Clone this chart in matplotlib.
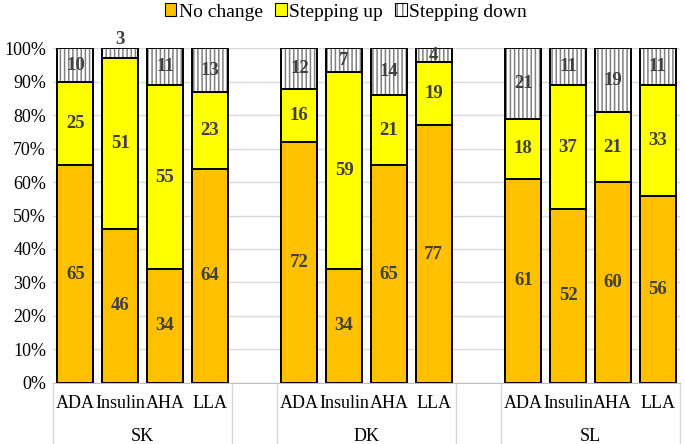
import numpy as np
import matplotlib
matplotlib.use("Agg")
import matplotlib.pyplot as plt
from matplotlib.patches import Patch
from matplotlib.legend_handler import HandlerTuple

plt.rcParams['font.family'] = ['Liberation Serif', 'DejaVu Serif']
plt.rcParams['hatch.linewidth'] = 1.1

groups = ['SK', 'DK', 'SL']
drugs = ['ADA', 'Insulin', 'AHA', 'LLA']
no_change = [65, 46, 34, 64, 72, 34, 65, 77, 61, 52, 60, 56]
stepping_up = [25, 51, 55, 23, 16, 59, 21, 19, 18, 37, 21, 33]
stepping_down = [10, 3, 11, 13, 12, 7, 14, 4, 21, 11, 19, 11]

orange = '#FFC000'
yellow = '#FFFF00'
hatch_gray = '#808080'
label_col = '#404040'

fig = plt.figure(figsize=(6.85, 4.44), dpi=100)
ax = fig.add_axes([0.0774, 0.138, 0.9153, 0.753])

# one empty slot between the groups
pos = []
for g in range(len(groups)):
    for d in range(len(drugs)):
        pos.append(g * (len(drugs) + 1) + d)
pos = np.array(pos)

nc = np.array(no_change)
up = np.array(stepping_up)
down = np.array(stepping_down)
w = 0.8
lw = 1.4

ax.bar(pos, nc, w, color=orange, edgecolor='black', linewidth=lw, zorder=3)
ax.bar(pos, up, w, bottom=nc, color=yellow, edgecolor='black', linewidth=lw, zorder=3)
ax.bar(pos, down, w, bottom=nc + up, color='white', edgecolor=hatch_gray,
       hatch='||||', linewidth=0, zorder=3)
ax.bar(pos, down, w, bottom=nc + up, fill=False, edgecolor='black', linewidth=lw, zorder=4)

for i, x in enumerate(pos):
    ax.text(x, nc[i] / 2, str(nc[i]), ha='center', va='center', fontsize=13.5,
            fontweight='bold', color=label_col, zorder=5)
    ax.text(x, nc[i] + up[i] / 2, str(up[i]), ha='center', va='center', fontsize=13.5,
            fontweight='bold', color=label_col, zorder=5)
    y = nc[i] + up[i] + down[i] / 2
    if down[i] < 4:
        y = 102.6
    ax.text(x, y, str(down[i]), ha='center', va='center', fontsize=13.5,
            fontweight='bold', color=label_col, zorder=5, clip_on=False)

ax.set_xlim(-0.5, pos[-1] + 0.5)
ax.set_ylim(0, 100)
ax.set_yticks(np.arange(0, 101, 10))
ax.set_yticklabels([f'{v}%' for v in range(0, 101, 10)], fontsize=13)
ax.grid(axis='y', color='#D9D9D9', linewidth=1, zorder=0)
ax.set_xticks(pos)
ax.set_xticklabels(drugs * len(groups), fontsize=13)
ax.tick_params(axis='both', length=0)
ax.tick_params(axis='x', pad=9)
ax.tick_params(axis='y', pad=5)
for s in ['top', 'right', 'left']:
    ax.spines[s].set_visible(False)
ax.spines['bottom'].set_color('#BFBFBF')

# group labels and separators under the axis
seps = [-0.5]
for g, name in enumerate(groups):
    start = g * (len(drugs) + 1)
    end = start + len(drugs) - 1
    ax.text((start + end) / 2, -16.0, name, ha='center', va='center', fontsize=13,
            clip_on=False)
    seps += [start - 0.5, end + 0.5]
seps = sorted(set(seps))
for s in seps:
    ax.plot([s, s], [0, -18.5], color='#D9D9D9', linewidth=1, clip_on=False)

h_nc = Patch(facecolor=orange, edgecolor='black', linewidth=0.8)
h_up = Patch(facecolor=yellow, edgecolor='black', linewidth=0.8)
h_dn = (Patch(facecolor='white', edgecolor=hatch_gray, hatch='|||', linewidth=0),
        Patch(fill=False, edgecolor='black', linewidth=0.8))
fig.legend([h_nc, h_up, h_dn], ['No change', 'Stepping up', 'Stepping down'],
           loc='center', bbox_to_anchor=(0.505, 0.973), ncol=3, frameon=False,
           prop={'family': 'Liberation Serif', 'size': 14},
           handlelength=0.6, handleheight=0.6, handletextpad=0.15,
           columnspacing=0.6, handler_map={tuple: HandlerTuple(ndivide=1)})

fig.savefig('out.png', dpi=100)
